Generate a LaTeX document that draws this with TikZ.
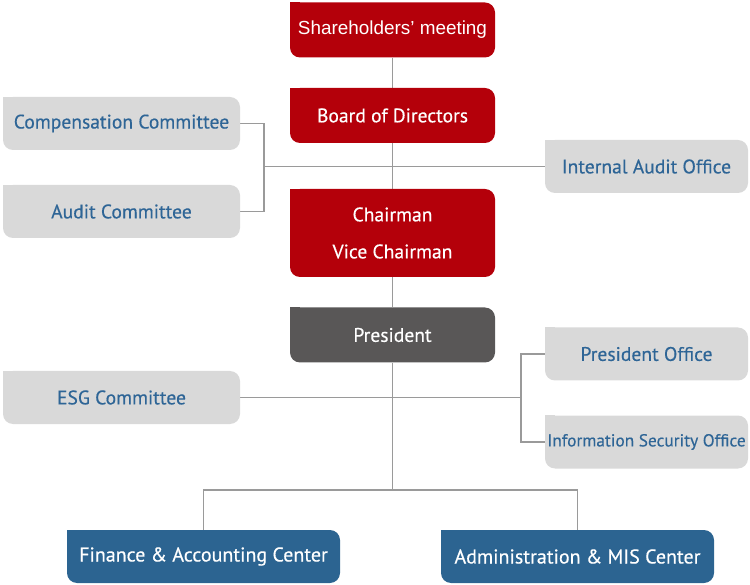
\documentclass[tikz,border=0pt]{standalone}
\usepackage{fontspec}
\setmainfont{PT Sans}[FakeBold=0.4]
\newfontfamily\arialfont{Liberation Sans}
\usetikzlibrary{backgrounds}
\definecolor{boxred}{HTML}{B4000A}
\definecolor{boxgray}{HTML}{D9D9D9}
\definecolor{boxdark}{HTML}{595757}
\definecolor{boxblue}{HTML}{2C6491}
\definecolor{txtblue}{HTML}{2E6596}
\definecolor{linegray}{HTML}{9A9A9A}
\tikzset{
  orgbox/.style={rounded corners=10pt, inner sep=0pt, anchor=center, font=\fontsize{19.6}{22}\selectfont},
  redbox/.style={orgbox, fill=boxred, text=white, minimum width=205pt, minimum height=55pt},
  graybox/.style={orgbox, fill=boxgray, text=txtblue},
  darkbox/.style={orgbox, fill=boxdark, text=white, minimum width=205pt, minimum height=55pt},
  bluebox/.style={orgbox, fill=boxblue, text=white, minimum width=273pt, minimum height=53pt, font=\fontsize{20}{22}\selectfont},
  leftbox/.style={graybox, minimum width=237pt, minimum height=53pt},
  rightbox/.style={graybox, minimum width=203pt, minimum height=53pt},
  conn/.style={draw=linegray, line width=1.4pt},
}
\newcommand\sqcorner[2]{\fill[#2] (#1.north west) rectangle ++(10pt,-10pt);}
\begin{document}
\begin{tikzpicture}[x=1pt,y=-1pt]
\useasboundingbox (0,0) rectangle (750,585);
% nodes
\node[redbox, font=\arialfont\fontsize{18.9}{22}\selectfont] (sh) at (392.5,30) {Shareholders’ meeting};
\node[redbox] (bd) at (392.5,115.5) {Board of Directors};
\node[redbox, minimum height=88pt, align=center, font=\fontsize{19.6}{37}\selectfont] (ch) at (392.5,233) {Chairman\\Vice Chairman};
\node[darkbox] (pr) at (392.5,335) {President};
\node[leftbox] (cc) at (121.5,123.5) {Compensation Committee};
\node[leftbox] (ac) at (121.5,211.5) {Audit Committee};
\node[rightbox] (ia) at (646.5,166.5) {Internal Audit Office};
\node[leftbox] (esg) at (121.5,397.5) {ESG Committee};
\node[rightbox] (po) at (646.5,354) {President Office};
\node[rightbox, font=\fontsize{17.3}{20}\selectfont] (is) at (646.5,442) {Information Security Office};
\node[bluebox] (fa) at (203.5,556.5) {Finance \& Accounting Center};
\node[bluebox] (am) at (577.5,556.5) {Administration \& MIS Center};
% coordinates
\coordinate (bk1) at (264,166.5);
\coordinate (bk2) at (521,397.5);
\coordinate (bot) at (392.5,490);
\begin{scope}[on background layer]
\sqcorner{sh}{boxred}
\sqcorner{bd}{boxred}
\sqcorner{ch}{boxred}
\sqcorner{pr}{boxdark}
\sqcorner{cc}{boxgray}
\sqcorner{ac}{boxgray}
\sqcorner{ia}{boxgray}
\sqcorner{esg}{boxgray}
\sqcorner{po}{boxgray}
\sqcorner{is}{boxgray}
\sqcorner{fa}{boxblue}
\sqcorner{am}{boxblue}
% connectors
\draw[conn] (sh) -- (bd);
\draw[conn] (bd) -- (ch);
\draw[conn] (ch) -- (pr);
\draw[conn] (pr.south) -- (bot);
\draw[conn] (cc.east) -| (bk1);
\draw[conn] (ac.east) -| (bk1);
\draw[conn] (bk1) -- (ia.west);
\draw[conn] (esg.east) -- (bk2);
\draw[conn] (po.west) -| (bk2);
\draw[conn] (is.west) -| (bk2);
\draw[conn] (bot) -| (fa.north);
\draw[conn] (bot) -| (am.north);
\end{scope}
\end{tikzpicture}
\end{document}
